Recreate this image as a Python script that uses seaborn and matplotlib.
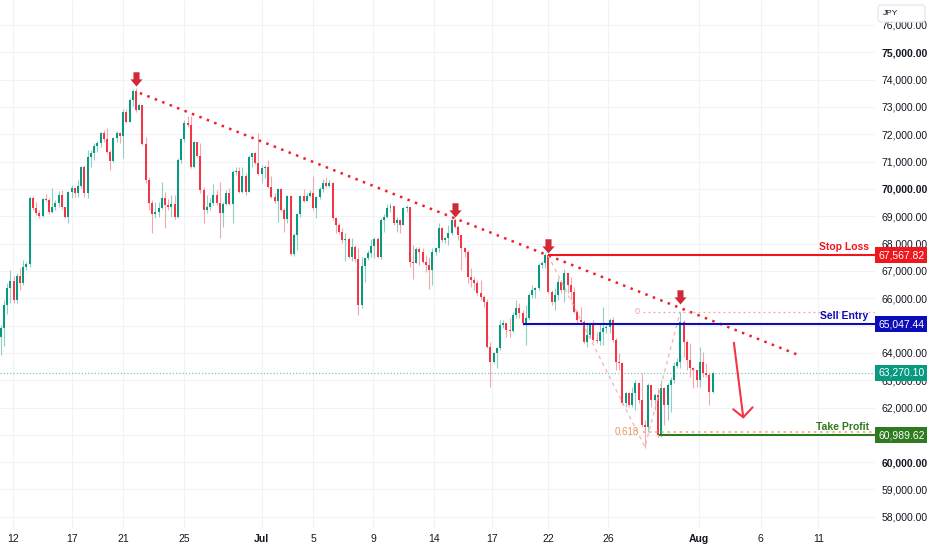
import numpy as np
import pandas as pd
import matplotlib
matplotlib.use("Agg")
import matplotlib.pyplot as plt
import matplotlib.transforms as mtransforms
from matplotlib.path import Path
from matplotlib.patches import FancyBboxPatch
import seaborn as sns

sns.set_theme(style="white")
plt.rcParams['font.family'] = ['Liberation Sans', 'DejaVu Sans']

# ---------------- data (JPY, candle closes / highs / lows) ----------------
open0 = 64580
close = [
    64910, 65752, 66374, 66630, 65935, 66813, 66557, 67143, 67253, 69668,
    69302, 69119, 69009, 69632, 69595, 69156, 69339, 69485, 69778, 69339,
    68973, 69888, 70034, 69851, 70107, 70803, 69851, 71169, 71315, 71571,
    71681, 72047, 71828, 71352, 71022, 71864, 72047, 71937, 72816, 72450,
    73255, 73584, 72889, 73072, 71645, 70327, 69485, 69083, 69156, 69302,
    69668, 69412, 69339, 69449, 68973, 71059, 71828, 72413, 72340, 70803,
    71718, 71205, 69961, 69229, 69339, 69485, 69778, 69485, 69119, 69449,
    69851, 69449, 70620, 70656, 69888, 70473, 69888, 71169, 71315, 70949,
    70547, 70766, 70803, 70071, 69705, 69558, 69998, 69229, 68900, 69741,
    67619, 68314, 69083, 69741, 69558, 69741, 69851, 69302, 69705, 69998,
    70217, 70107, 70217, 68936, 68680, 68424, 68131, 68168, 67509, 67875,
    67436, 65752, 67179, 67472, 67655, 67911, 68168, 67509, 68863, 68973,
    69302, 69376, 68753, 68863, 68680, 69302, 69339, 67326, 67289, 67802,
    67692, 67326, 67216, 67033, 67692, 67838, 68570, 68131, 68204, 68387,
    68863, 68607, 68314, 67838, 67692, 66777, 66667, 66557, 66191, 66045,
    65862, 64215, 63666, 63995, 64178, 65020, 65093, 64837, 64800, 65386,
    65642, 65459, 65093, 65276, 66118, 66301, 66374, 67216, 67289, 67582,
    66228, 65862, 66118, 66594, 66301, 66923, 66484, 66228, 65496, 65203,
    65130, 64398, 64654, 65020, 64471, 64434, 64764, 64910, 64947, 65203,
    64471, 63666, 63629, 62165, 62531, 62092, 62531, 62897, 62275, 61360,
    61287, 62824, 62275, 62458, 60994, 62714, 62092, 62824, 63007, 63519,
    63666, 65130, 64398, 63739, 63446, 63373, 63007, 63666, 63263, 63190,
    62568, 63270.10]
high = [
    65020, 65935, 66557, 67033, 66813, 66923, 67106, 67399, 67326, 69741,
    69741, 69522, 69229, 69668, 69815, 69668, 70034, 69595, 69924, 69961,
    69302, 69924, 70144, 70034, 70327, 70840, 70876, 71425, 71425, 71681,
    71754, 72084, 72157, 72230, 71425, 71901, 72120, 72084, 72926, 72926,
    73328, 73658, 73694, 73145, 73072, 71901, 70437, 69595, 69522, 69522,
    70254, 69888, 69632, 69778, 69778, 71132, 71864, 72523, 72669, 72669,
    71754, 71498, 71681, 70071, 69778, 69668, 70180, 69961, 70254, 69522,
    69961, 70034, 70693, 70803, 70803, 70803, 70583, 71242, 71330, 71352,
    72047, 70876, 70876, 71059, 70473, 69851, 70034, 70034, 69302, 69778,
    69778, 68387, 69119, 69778, 69998, 69851, 69961, 70473, 69741, 70071,
    70364, 70437, 70327, 70254, 68973, 68753, 68570, 68387, 68241, 68204,
    67948, 67838, 67509, 67509, 67765, 68168, 68241, 68241, 68936, 69083,
    69449, 69485, 69339, 68973, 68900, 69339, 69412, 69266, 67948, 67875,
    67875, 67838, 67582, 67509, 67838, 67875, 68753, 68607, 68241, 68680,
    68900, 68936, 68680, 68241, 67875, 67765, 67106, 66777, 66667, 66667,
    66118, 65972, 64398, 64032, 64215, 65203, 65203, 65093, 65276, 65496,
    65935, 65825, 65569, 65752, 66191, 66484, 66411, 67289, 67362, 67655,
    67619, 66301, 66374, 66740, 66667, 67070, 66667, 66777, 66411, 65569,
    65679, 65203, 65093, 65093, 65203, 64764, 65093, 65679, 65020, 65276,
    65313, 64544, 63995, 63666, 62568, 62568, 62751, 63007, 62934, 63263,
    61543, 62897, 62641, 62531, 62714, 63007, 62751, 62897, 63117, 63666,
    63812, 65496, 65203, 64471, 64361, 63483, 63373, 64215, 64032, 63629,
    63263, 63300]
low = [
    63922, 64251, 65423, 65825, 65825, 65825, 66301, 66484, 67033, 67143,
    69229, 69046, 68936, 68973, 69558, 69083, 69119, 69229, 69339, 69266,
    68940, 68753, 69668, 69705, 69705, 70034, 69705, 69668, 70803, 71059,
    71352, 71535, 71718, 71315, 70693, 70986, 71718, 71681, 71132, 72413,
    72450, 73035, 72816, 72889, 71608, 70217, 69229, 68387, 68936, 68973,
    69266, 68570, 69229, 68973, 68900, 68936, 70949, 71718, 72267, 70766,
    70766, 71169, 69851, 68753, 69119, 69229, 69412, 69412, 68204, 68607,
    69412, 69412, 68753, 70510, 69851, 69851, 69778, 69924, 70803, 70910,
    70510, 70217, 70400, 70034, 69668, 69485, 68790, 69192, 68424, 68753,
    67582, 67545, 67765, 68973, 69522, 69558, 69705, 69229, 68936, 69632,
    69888, 70071, 70071, 68863, 68387, 68351, 68021, 67362, 67472, 67362,
    67326, 65386, 65642, 66594, 67399, 67509, 67472, 67472, 67436, 68424,
    68936, 69156, 68680, 68424, 68387, 68680, 69156, 67143, 66704, 67289,
    67216, 67289, 66960, 66338, 66484, 67582, 67692, 68058, 68021, 67948,
    68314, 68570, 68131, 67033, 67509, 66557, 66411, 66301, 66118, 65935,
    65679, 64178, 62751, 63629, 63446, 64105, 64910, 64581, 64581, 64764,
    65276, 65276, 65020, 64288, 65203, 66008, 66008, 66301, 67106, 67106,
    66191, 65752, 65569, 65935, 66191, 65862, 66191, 65935, 65459, 65093,
    65093, 64361, 64215, 64544, 64398, 64361, 64288, 64288, 64727, 64727,
    64398, 63373, 63373, 62092, 62019, 62019, 62019, 61909, 62165, 61287,
    60518, 61104, 62019, 61909, 60921, 60921, 61360, 61543, 61836, 62897,
    63446, 63446, 63849, 63373, 63117, 62714, 62751, 62751, 63117, 63117,
    62092, 62531]

xtick_bars = [3.9, 22.0, 38.0, 57.0, 81.0, 97.0, 115.6, 134.5, 152.5, 169.9,
              188.6, 216.8, 235.9, 253.8]
xtick_labels = ["12", "17", "21", "25", "Jul", "5", "9", "14", "17", "22",
                "26", "Aug", "6", "11"]
ytick_values = list(range(58000, 76001, 1000))
ytick_hidden = [61000, 65000]   # covered by the level tags in the reference

# trend line and signal arrows
trend_bar = [43.2, 248.3]
trend_price = [73510, 63890]
signal_bar = [42, 141, 170, 211]
signal_tip = [73770, 68990, 67650, 65790]

# trade levels
stop_loss = 67567.82
sell_entry = 65047.44
take_profit = 60989.62
last_price = 63270.10
stop_from, entry_from, tp_from = 170, 162, 204.5

# fibonacci drawing
fib0_price, fib618_price = 65507, 61093
fib_from = 199.5
fib_diag_bar = [169.9, 200.0, 210.9]
fib_diag_price = [67570, 60555, 65496]

# projected move arrow
move_bar = [227.6, 230.5]
move_price = [64372, 61642]
head_bar = [227.4, 230.5, 233.4]
head_price = [61935, 61642, 62008]

UP, DOWN = '#089981', '#f23645'
UP_WICK, DOWN_WICK = '#8fd0c6', '#f7a6ad'
TXT = '#131722'

df = pd.DataFrame({'close': close, 'high': high, 'low': low})
df['open'] = [open0] + close[:-1]
df['bar'] = np.arange(len(df))
df['up'] = df['close'] >= df['open']
body_lo = df[['open', 'close']].min(axis=1)
body_hi = df[['open', 'close']].max(axis=1)

fig = plt.figure(figsize=(9.32, 5.5), dpi=100)
ax = fig.add_axes([0, 22 / 550, 875 / 932, 528 / 550])
xmin, xmax = -0.22, 271.4
ax.set_xlim(xmin, xmax)
ax.set_ylim(57590, 76915)
for s in ax.spines.values():
    s.set_visible(False)

# grid
ax.set_axisbelow(True)
ax.grid(True, color='#f1f2f5', linewidth=0.8)

# candles
ax.vlines(df['bar'], np.minimum(df['low'], body_lo), np.maximum(df['high'], body_hi),
          colors=np.where(df['up'], UP_WICK, DOWN_WICK), linewidth=0.8, zorder=3)
ax.bar(df['bar'], (body_hi - body_lo).clip(lower=35), bottom=body_lo, width=0.62,
       color=np.where(df['up'], UP, DOWN), linewidth=0, zorder=4)

# current price dotted line
ax.axhline(last_price, color='#79c9bd', linewidth=0.9, linestyle=(0, (1, 1.6)), zorder=2)

# trend line (dotted red)
sns.lineplot(x=trend_bar, y=trend_price, ax=ax, color='#f0202a', linewidth=1.8,
             linestyle=(0, (1, 2.2)), dash_capstyle='butt', zorder=5, sort=False)

# fib drawing
ax.plot(fib_diag_bar, fib_diag_price, color='#f6b3b3', linewidth=0.9,
        linestyle=(0, (3, 3)), zorder=5)
ax.hlines(fib0_price, fib_from, xmax, color='#f4a3a3', linewidth=0.9,
          linestyle=(0, (1.5, 2.5)), zorder=5)
ax.hlines(fib618_price, fib_from, xmax, color='#eda270', linewidth=1.1,
          linestyle=(0, (1.5, 2.5)), zorder=5)
ax.text(fib_from - 1.3, fib0_price, "0", color='#f2a0a0', fontsize=6.5,
        ha='right', va='center', zorder=6)
ax.text(fib_from - 1.3, fib618_price, "0.618", color='#e69560', fontsize=7,
        ha='right', va='center', zorder=6)

# trade levels
levels = [
    (stop_loss, stop_from, '#f0161d', "Stop Loss"),
    (sell_entry, entry_from, '#0c0cb8', "Sell Entry"),
    (take_profit, tp_from, '#2e7a1f', "Take Profit"),
]
blend = mtransforms.blended_transform_factory(ax.transAxes, ax.transData)
for price, start, col, name in levels:
    ax.hlines(price, start, xmax, color=col, linewidth=1.5, zorder=6)
    ax.annotate(name, xy=(1, price), xycoords=blend, xytext=(-4.5, 2.2),
                textcoords='offset points', ha='right', va='bottom', color=col,
                fontsize=7.5, fontweight='bold', zorder=7)

# price tags on the axis
tags = [(stop_loss, '#f0161d'), (sell_entry, '#0c0cb8'),
        (last_price, UP), (take_profit, '#2e7a1f')]
for price, col in tags:
    ax.text(1.0035, price, f"{price:,.2f}", transform=blend, ha='left', va='center',
            color='white', fontsize=7.5, clip_on=False, zorder=10,
            bbox=dict(boxstyle='square,pad=0.28', fc=col, ec='none'))

# signal arrows (block arrows pointing down)
arrow_path = Path([(0, 0), (6, 7), (3, 7), (3, 14), (-3, 14), (-3, 7), (-6, 7), (0, 0)],
                  [Path.MOVETO] + [Path.LINETO] * 6 + [Path.CLOSEPOLY])
ax.scatter(signal_bar, signal_tip, marker=arrow_path, s=20.5 ** 2, color='#cf2b37',
           linewidths=0, zorder=8)

# projected move arrow
ax.plot(move_bar, move_price, color='#f23645', linewidth=1.5, zorder=8,
        solid_capstyle='round')
ax.plot(head_bar, head_price, color='#f23645', linewidth=1.5, zorder=8,
        solid_capstyle='round', solid_joinstyle='round')

# axes ticks
ax.yaxis.tick_right()
ax.set_yticks(ytick_values)
ax.set_yticklabels(["" if v in ytick_hidden else f"{v:,.2f}" for v in ytick_values])
ax.set_xticks(xtick_bars)
ax.set_xticklabels(xtick_labels)
ax.tick_params(axis='y', length=0, pad=4.5, labelsize=7.5, colors=TXT)
ax.tick_params(axis='x', length=0, pad=4.5, labelsize=7.5, colors=TXT)
for lab, v in zip(ax.get_yticklabels(), ytick_values):
    if v in (60000, 70000, 75000):
        lab.set_fontweight('bold')
for lab in ax.get_xticklabels():
    if lab.get_text() in ("Jul", "Aug"):
        lab.set_fontweight('bold')

# currency box
ident = mtransforms.IdentityTransform()
box = FancyBboxPatch((878, 550 - 22), 47, 17, boxstyle='round,pad=0,rounding_size=3',
                     transform=ident, fc='white', ec='#e0e3eb', lw=0.8, zorder=20)
fig.add_artist(box)
fig.text(883, 550 - 13.5, "JPY", transform=ident, fontsize=6, color=TXT,
         va='center', ha='left', zorder=21)

fig.savefig("out.png", dpi=100, facecolor='white')
